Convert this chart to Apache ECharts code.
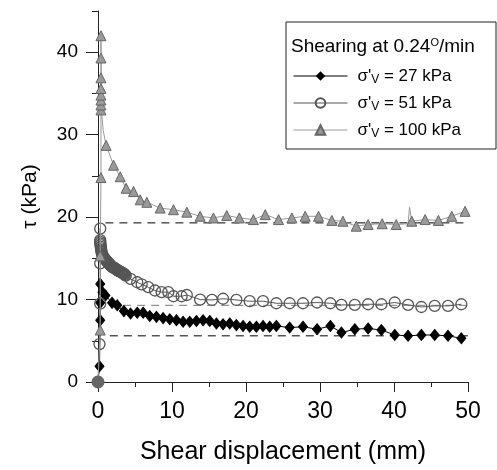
<!DOCTYPE html>
<html>
<head>
<meta charset="utf-8">
<script src="https://cdn.jsdelivr.net/npm/echarts@6/dist/echarts.min.js"></script>
<style>
  html, body { margin: 0; padding: 0; background: #fff; }
  #chart { width: 497px; height: 470px; }
</style>
</head>
<body>
<div id="chart"></div>
<script>
// values: shear displacement (mm) / tau (kPa)
const seriesNames = ['27', '51', '100'];

const x27 = [0, 0.2, 0.3, 0.3, 0.3, 0.6, 1.0, 1.9, 2.6, 3.5, 4.4, 5.3, 6.1, 7.0, 7.9, 8.8, 9.7, 10.6, 11.5, 12.4, 13.3,
  14.2, 15.1, 16.0, 16.9, 17.8, 18.7, 19.6, 20.5, 21.4, 22.3, 23.2, 24.1, 25.9, 27.7, 29.6, 31.4, 32.9, 34.7,
  36.5, 38.3, 40.1, 41.9, 43.7, 45.5, 47.3, 49.1];
const y27 = [0, 1.9, 7.5, 9.6, 11.9, 10.9, 10.5, 9.6, 9.3, 8.6, 8.3, 8.4, 8.4, 8.0, 7.9, 7.75, 7.6, 7.5, 7.3, 7.3, 7.4,
  7.5, 7.4, 7.1, 7.0, 7.1, 6.9, 6.8, 6.7, 6.7, 6.8, 6.7, 6.8, 6.6, 6.7, 6.4, 6.8, 6.0, 6.4,
  6.5, 6.3, 5.7, 5.6, 5.7, 5.7, 5.6, 5.3];

// the first 4 mm of the 51 kPa test is a dense cloud of readings
const x51 = [0, 0.2, 0.3, 0.3, 0.3,
  0.3, 0.3, 0.32, 0.35, 0.38, 0.4, 0.43, 0.47, 0.52, 0.58, 0.65, 0.75, 0.85, 0.95, 1.05, 1.15, 1.25, 1.35,
  1.45, 1.55, 1.65, 1.75, 1.85, 1.95, 2.05, 2.15, 2.25, 2.35, 2.45, 2.55, 2.65, 2.75, 2.85, 2.95, 3.05,
  3.15, 3.25, 3.35, 3.45, 3.55, 3.65, 3.75,
  4.4, 5.3, 5.9, 6.8, 7.7, 8.6, 9.5, 10.2, 11.3, 12.0, 13.8, 15.4, 16.9, 18.7, 20.5, 22.3, 24.1, 25.9, 27.7, 29.6,
  31.4, 32.9, 34.7, 36.5, 38.3, 40.1, 41.9, 43.7, 45.5, 47.3, 49.1];
const y51 = [0, 4.6, 9.5, 14.4, 18.6,
  17.2, 17.0, 16.8, 16.6, 16.4, 16.2, 16.0, 15.8, 15.6, 15.45, 15.3, 15.15, 15.0, 14.9, 14.8, 14.7, 14.6, 14.5,
  14.4, 14.3, 14.2, 14.1, 14.0, 13.95, 13.9, 13.85, 13.8, 13.75, 13.7, 13.6, 13.55, 13.5, 13.45, 13.4, 13.35,
  13.3, 13.25, 13.2, 13.15, 13.1, 13.0, 12.9,
  12.5, 12.1, 11.85, 11.5, 11.1, 10.9, 10.9, 10.4, 10.4, 10.55, 10.0, 9.95, 10.1, 9.95, 9.8, 9.8, 9.55, 9.55, 9.55, 9.64,
  9.55, 9.35, 9.35, 9.43, 9.43, 9.64, 9.35, 9.1, 9.23, 9.23, 9.43];

const x100 = [0, 0.3, 0.3, 0.4, 0.4, 0.4, 0.4, 0.4, 0.4, 0.4, 0.4, 0.4, 0.45, 0.7, 1.1, 2.1, 3.0, 3.8, 4.8, 5.7, 6.6, 8.4,
  10.2, 12.0, 13.8, 15.6, 17.4, 19.1, 21.0, 22.6, 24.4, 26.2, 28.0, 29.8, 31.6, 33.1, 34.9, 36.5, 38.4, 40.3,
  41.9, 42.1, 42.4, 44.2, 46.0, 47.8, 49.6];
const y100 = [0, 6.3, 15.3, 24.8, 33.0, 33.6, 34.2, 34.8, 35.6, 36.9, 39.3, 42.0, 33.2, 30.5, 28.7, 26.3, 24.9, 23.5, 23.1, 22.1, 21.8, 21.1,
  20.9, 20.6, 20.1, 19.9, 20.2, 19.9, 19.7, 20.3, 19.7, 19.9, 20.1, 20.1, 19.6, 19.5, 18.9, 19.1, 19.2, 19.1,
  19.2, 21.2, 19.5, 19.7, 19.6, 20.1, 20.7];
// readings that sit on the line only (no marker drawn in the figure)
const unmarked100 = [12, 13, 40, 41];

// residual strength reference lines
const residualStart = [1.6, 3.4, 1.0];
const residualLevel = [5.6, 9.3, 19.3];

const xTicks = [0, 10, 20, 30, 40, 50];
const yTicks = [0, 10, 20, 30, 40];

const FONT = "'Liberation Sans', Arial, sans-serif";

const pairs = (xs, ys) => xs.map((x, i) => [x, ys[i]]);

let myChart = echarts.init(document.getElementById('chart'), null, { renderer: 'canvas' });

const data100 = pairs(x100, y100).map((p, i) => {
	if (i === 0) {
		return { value: p, symbol: 'circle', symbolSize: 12, itemStyle: { color: '#666', borderColor: '#666' } };
	}
	if (unmarked100.indexOf(i) >= 0) {
		return { value: p, symbol: 'none' };
	}
	return p;
});

const dashColors = ['#000', '#777', '#000'];
const dashSeries = residualLevel.map((lv, i) => ({
	type: 'line',
	name: 'residual' + i,
	data: [[residualStart[i], lv], [50, lv]],
	showSymbol: false,
	symbol: 'none',
	silent: true,
	lineStyle: { color: dashColors[i], width: 1, type: [8, 6] },
	z: 1,
}));

const option = {
	animation: false,
	backgroundColor: '#fff',
	textStyle: { fontFamily: FONT },
	title: {
		text: 'Shearing at 0.24{s|O}/min',
		left: 291,
		top: 37,
		padding: 0,
		textStyle: {
			fontFamily: FONT,
			fontSize: 19,
			fontWeight: 'normal',
			color: '#000',
			rich: {
				s: { fontFamily: FONT, fontSize: 11, verticalAlign: 'top', color: '#000' },
			},
		},
	},
	graphic: [
		{
			type: 'rect',
			shape: { x: 286, y: 22, width: 210, height: 127 },
			style: { fill: 'transparent', stroke: '#222', lineWidth: 1 },
			silent: true,
		},
	],
	legend: {
		data: seriesNames,
		orient: 'vertical',
		left: 293,
		top: 66,
		padding: 0,
		itemWidth: 54,
		itemHeight: 12,
		itemGap: 7,
		lineStyle: { width: 1 },
		formatter: (name) => "σ'{v|V} = " + name + ' kPa',
		textStyle: {
			fontFamily: FONT,
			fontSize: 17,
			color: '#000',
			lineHeight: 20,
			padding: [0, 0, 0, 5],
			rich: {
				v: { fontFamily: FONT, fontSize: 12, verticalAlign: 'bottom', lineHeight: 14, color: '#000' },
			},
		},
	},
	grid: {
		left: 98,
		right: 29,
		top: 11,
		bottom: 87,
		containLabel: false,
	},
	xAxis: {
		type: 'value',
		min: 0,
		max: 50,
		interval: 10,
		name: 'Shear displacement (mm)',
		nameLocation: 'middle',
		nameGap: 58,
		nameTextStyle: { fontFamily: FONT, fontSize: 25, color: '#000' },
		axisLine: { onZero: false, lineStyle: { color: '#222', width: 1 } },
		axisTick: { show: true, length: 10, lineStyle: { color: '#222' } },
		minorTick: { show: true, splitNumber: 2, length: 5, lineStyle: { color: '#222' } },
		axisLabel: { fontFamily: FONT, fontSize: 23, color: '#000', margin: 18, customValues: xTicks },
		splitLine: { show: false },
	},
	yAxis: [
		{
			type: 'value',
			position: 'left',
			min: 0,
			max: 45,
			interval: 10,
			name: 'τ (kPa)',
			nameLocation: 'middle',
			nameGap: 57,
			nameTextStyle: { fontFamily: FONT, fontSize: 21, color: '#000' },
			axisLine: { show: true, onZero: false, lineStyle: { color: '#222', width: 1 } },
			axisTick: { show: true, length: 12, customValues: yTicks, lineStyle: { color: '#222' } },
			axisLabel: {
				fontFamily: FONT,
				fontSize: 19,
				color: '#000',
				margin: 20,
				customValues: yTicks,
				formatter: (v) => (yTicks.indexOf(v) >= 0 ? String(v) : ''),
			},
			splitLine: { show: false },
		},
		{
			// short ticks every 5 kPa
			type: 'value',
			position: 'left',
			min: 0,
			max: 45,
			interval: 5,
			axisLine: { show: false },
			axisTick: { show: true, length: 6, lineStyle: { color: '#222' } },
			axisLabel: { show: false },
			splitLine: { show: false },
		},
	],
	series: [
		...dashSeries,
		{
			type: 'line',
			name: seriesNames[0],
			data: pairs(x27, y27),
			symbol: 'diamond',
			symbolSize: [9, 11],
			color: '#000',
			itemStyle: { color: '#000', borderColor: '#000' },
			lineStyle: { color: '#000', width: 1 },
			z: 3,
		},
		{
			type: 'line',
			name: seriesNames[1],
			data: pairs(x51, y51),
			symbol: 'circle',
			symbolSize: 11,
			color: '#555',
			itemStyle: { color: 'rgba(255,255,255,0)', borderColor: '#555', borderWidth: 1.3 },
			lineStyle: { color: '#555', width: 1 },
			z: 4,
		},
		{
			type: 'line',
			name: seriesNames[2],
			data: data100,
			symbol: 'triangle',
			symbolSize: 10,
			color: '#999',
			itemStyle: { color: '#9a9a9a', borderColor: '#666', borderWidth: 1 },
			lineStyle: { color: '#999', width: 1 },
			z: 5,
		},
	],
};

option && myChart.setOption(option);
</script>
</body>
</html>
